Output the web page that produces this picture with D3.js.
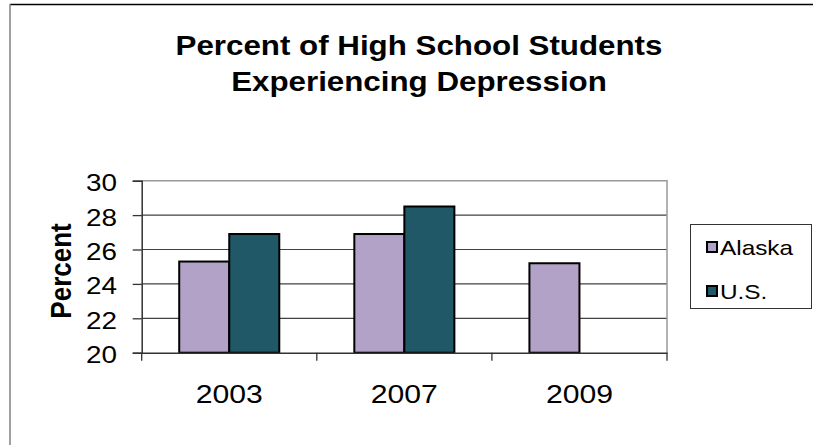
<!DOCTYPE html>
<html>
<head>
<meta charset="utf-8">
<script src="https://cdn.jsdelivr.net/npm/d3@7"></script>
<style>
  html, body { margin: 0; padding: 0; background: #fff; }
  svg { display: block; }
  text { font-family: "Liberation Sans", Arial, sans-serif; fill: #000; }
</style>
</head>
<body>
<svg id="chart" width="813" height="445"></svg>
<script>
const categories = ["2003", "2007", "2009"];
const seriesNames = ["Alaska", "U.S."];
const alaskaValues = [25.3, 26.9, 25.2];
const usValues = [26.9, 28.5, null];
const yTickValues = [20, 22, 24, 26, 28, 30];
const titleLines = ["Percent of High School Students", "Experiencing Depression"];
const yAxisTitle = "Percent";
const colors = { "Alaska": "#b3a2c7", "U.S.": "#215868" };

const SX = 1.16; // horizontal stretch of the original rendering
const svg = d3.select("#chart");
const W = 813, H = 445;

svg.append("rect").attr("width", W).attr("height", H).attr("fill", "#fff");

// outer frame (top and left visible)
svg.append("line").attr("x1", 10).attr("x2", W).attr("y1", 4.5).attr("y2", 4.5)
  .attr("stroke", "#000").attr("stroke-width", 1.5);
svg.append("line").attr("x1", 10).attr("x2", 10).attr("y1", 4).attr("y2", H)
  .attr("stroke", "#808080").attr("stroke-width", 1.5);

const plot = { left: 141.7, right: 667, top: 180.7, bottom: 352.7 };

const x = d3.scaleBand().domain(categories).range([plot.left, plot.right]).padding(0);
const x1 = d3.scaleBand().domain(seriesNames).range([0, x.bandwidth()]).paddingInner(0).paddingOuter(0.75);
const y = d3.scaleLinear().domain([20, 30]).range([plot.bottom, plot.top]);

// gridlines
svg.append("g").selectAll("line").data(yTickValues.filter(v => v > 20 && v < 30)).join("line")
  .attr("x1", plot.left).attr("x2", plot.right)
  .attr("y1", d => y(d)).attr("y2", d => y(d))
  .attr("stroke", "#404040").attr("stroke-width", 1.2);

// plot area border top/right (grey)
svg.append("path")
  .attr("d", `M${plot.left},${y(30)}H${plot.right}V${plot.bottom}`)
  .attr("fill", "none").attr("stroke", "#999").attr("stroke-width", 1.5);

// bars
const rows = categories.map((c, i) => ({ cat: c, vals: [
  { s: "Alaska", v: alaskaValues[i] }, { s: "U.S.", v: usValues[i] } ] }));
const g = svg.append("g");
rows.forEach(r => {
  r.vals.filter(d => d.v != null).forEach(d => {
    g.append("rect")
      .attr("x", x(r.cat) + x1(d.s))
      .attr("y", y(d.v))
      .attr("width", x1.bandwidth())
      .attr("height", y(20) - y(d.v))
      .attr("fill", colors[d.s])
      .attr("stroke", "#000").attr("stroke-width", 2);
  });
});

// y axis
const yAxis = svg.append("g").attr("transform", `translate(${plot.left},0)`)
  .call(d3.axisLeft(y).tickValues(yTickValues).tickSize(9).tickPadding(12.3).tickFormat(d3.format("d")));
yAxis.select(".domain").attr("stroke", "#333").attr("stroke-width", 1.5);
yAxis.selectAll(".tick line").attr("stroke", "#333").attr("stroke-width", 1.3);
yAxis.selectAll(".tick text")
  .attr("font-size", 24).attr("font-family", "Liberation Sans, Arial, sans-serif")
  .attr("fill", "#000").attr("dy", "0.42em")
  .attr("transform", `scale(${SX},1)`);

// x axis
const xAxis = svg.append("g").attr("transform", `translate(0,${plot.bottom})`)
  .call(d3.axisBottom(x).tickSize(0).tickPadding(31.5));
xAxis.select(".domain").attr("stroke", "#333").attr("stroke-width", 1.5);
xAxis.selectAll(".tick text")
  .attr("font-size", 26).attr("font-family", "Liberation Sans, Arial, sans-serif")
  .attr("fill", "#000")
  .attr("transform", `scale(${SX},1)`);
// category boundary ticks
const bounds = categories.map(c => x(c)).concat([x.range()[1]]);
svg.append("g").selectAll("line").data(bounds).join("line")
  .attr("x1", d => d).attr("x2", d => d)
  .attr("y1", plot.bottom).attr("y2", plot.bottom + 8)
  .attr("stroke", "#333").attr("stroke-width", 1.3);

// y axis title
svg.append("text")
  .attr("transform", `translate(71,271) scale(${SX},1) rotate(-90)`)
  .attr("text-anchor", "middle")
  .attr("font-size", 26).attr("font-weight", "bold")
  .text(yAxisTitle);

// title
titleLines.forEach((t, i) => {
  svg.append("text")
    .attr("transform", `translate(419,${55 + i * 36}) scale(${SX},1)`)
    .attr("text-anchor", "middle")
    .attr("font-size", 27).attr("font-weight", "bold")
    .text(t);
});

// legend
svg.append("rect").attr("x", 690.5).attr("y", 224.5).attr("width", 121).attr("height", 84)
  .attr("fill", "#fff").attr("stroke", "#333").attr("stroke-width", 1);
const legendY = [247, 291];
seriesNames.forEach((s, i) => {
  svg.append("rect").attr("x", 707).attr("y", legendY[i] - 5).attr("width", 10).attr("height", 10)
    .attr("fill", colors[s]).attr("stroke", "#000").attr("stroke-width", 2);
  svg.append("text")
    .attr("transform", `translate(720,${legendY[i] + 7.5}) scale(${SX},1)`)
    .attr("font-size", 21)
    .text(s);
});
</script>
</body>
</html>
